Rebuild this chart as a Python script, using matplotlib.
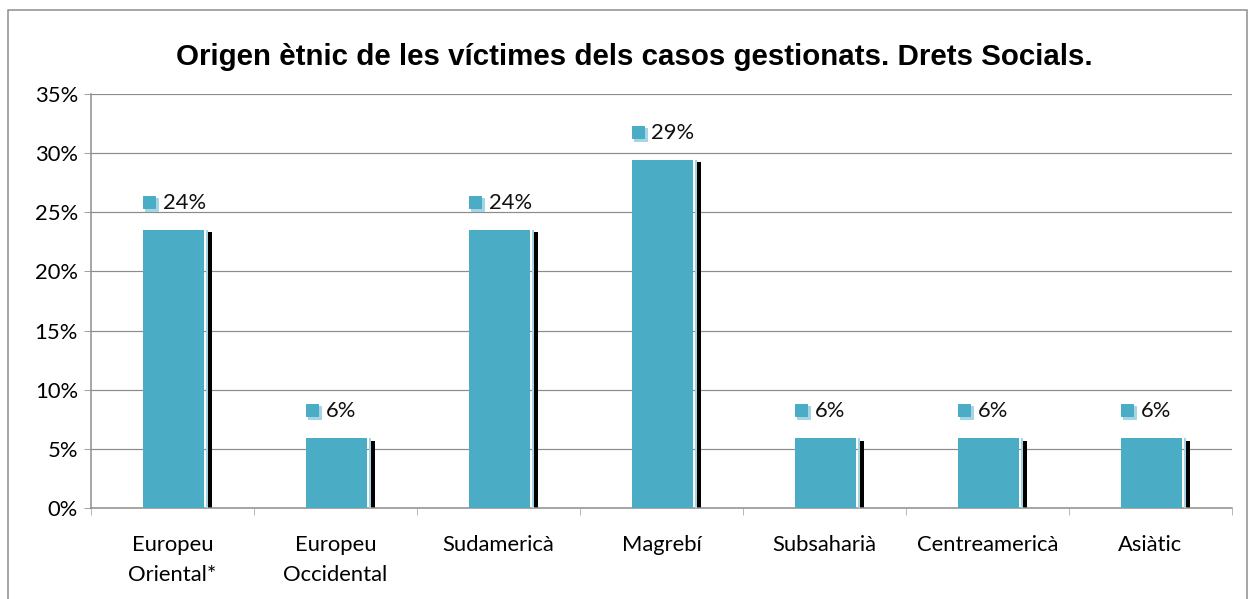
import matplotlib
matplotlib.use('Agg')
import matplotlib.pyplot as plt
from matplotlib.patches import Rectangle
from matplotlib.transforms import offset_copy

# Data
categories = ["Europeu\nOriental*", "Europeu\nOccidental", "Sudamericà", "Magrebí",
              "Subsaharià", "Centreamericà", "Asiàtic"]
values = [23.53, 5.88, 23.53, 29.41, 5.88, 5.88, 5.88]
labels = ["24%", "6%", "24%", "29%", "6%", "6%", "6%"]
title = "Origen ètnic de les víctimes dels casos gestionats. Drets Socials."

W, H = 1252, 599
DPI = 72
blue = "#4BACC6"
light = "#A5D5E2"

fig = plt.figure(figsize=(W / DPI, H / DPI), dpi=DPI)
fig.patch.set_facecolor("white")

# outer frame of the chart
fig.patches.append(Rectangle((8 / W, -0.05), (1247 - 8) / W, (H - 10) / H + 0.05,
                             transform=fig.transFigure, fill=False,
                             edgecolor="#8c8c8c", linewidth=1.5))

ax = fig.add_axes([91 / W, (H - 508) / H, (1232 - 91) / W, (508 - 94) / H])

cat_px = (1232 - 91) / 7.0
def px(p):
    return p / cat_px

x = list(range(len(categories)))
for i, v in enumerate(values):
    c = i + 0.5
    # black shadow, slightly lower
    ax.bar(c + px(35.5), v - 0.2, width=px(4), align='edge', color="black", zorder=2)
    # light strip
    ax.bar(c + px(33.5), v, width=px(2), align='edge', color=light, zorder=3)
    # main bar
    ax.bar(c - px(29.5), v, width=px(61), align='edge', color=blue, zorder=3)

    # data label with key
    t_sq_l = offset_copy(ax.transData, fig=fig, x=-22, y=26, units='dots')
    t_sq = offset_copy(ax.transData, fig=fig, x=-24, y=28, units='dots')
    ax.plot(c, v, marker='s', ms=13, color=light, mec=light, transform=t_sq_l,
            zorder=5, clip_on=False)
    ax.plot(c, v, marker='s', ms=12, color=blue, mec=blue, transform=t_sq,
            zorder=6, clip_on=False)
    ax.annotate(labels[i], xy=(c, v), xytext=(-10, 27), textcoords='offset points',
                ha='left', va='center', fontsize=22, family='Lato', color="#111111")

ax.set_xlim(0, 7)
ax.set_ylim(0, 35)
ax.set_yticks(range(0, 36, 5))
ax.set_yticklabels([f"{t}%" for t in range(0, 36, 5)], fontsize=22, family='Lato')
ax.set_xticks([i + 0.5 for i in x])
ax.set_xticklabels(categories, fontsize=22, family='Lato', linespacing=1.65, va='top')
ax.set_xticks(range(0, 8), minor=True)
ax.tick_params(axis='x', which='major', length=0, pad=27)
ax.tick_params(axis='x', which='minor', length=7, color="#8c8c8c", direction='out')
ax.tick_params(axis='y', length=7, color="#8c8c8c", direction='out', pad=6)

ax.yaxis.grid(True, color="#8c8c8c", linewidth=1.2)
ax.set_axisbelow(True)
for s in ['top', 'right']:
    ax.spines[s].set_visible(False)
for s in ['left', 'bottom']:
    ax.spines[s].set_color("#8c8c8c")
    ax.spines[s].set_linewidth(1.5)

fig.text(634 / W, 1 - 57 / H, title, ha='center', va='center', fontsize=29.5,
         fontweight='bold', family='Liberation Sans')

fig.savefig("out.png", dpi=DPI)
